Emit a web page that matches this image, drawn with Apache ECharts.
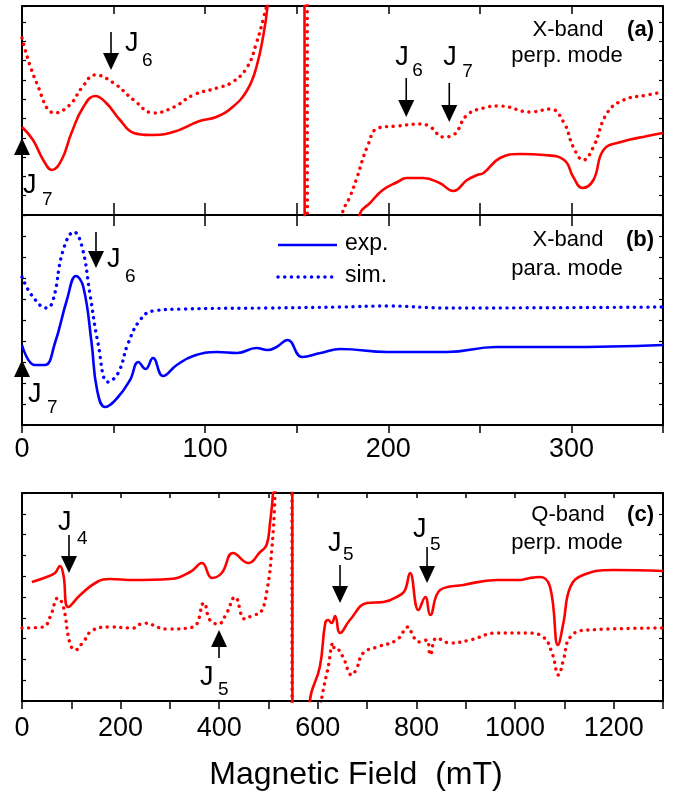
<!DOCTYPE html>
<html>
<head>
<meta charset="utf-8">
<script src="https://cdn.jsdelivr.net/npm/echarts@6/dist/echarts.min.js"></script>
<style>
html,body{margin:0;padding:0;background:#fff;}
#c{width:678px;height:794px;}
</style>
</head>
<body>
<div id="c"></div>
<script>
// ---------- data (field in mT, intensity in arbitrary units) ----------
// Panel (a) X-band perpendicular mode
const aExpField = [0, 6, 11.6, 16.4, 21.6, 27, 33.5, 40, 46, 53.5, 61, 70, 82.5, 97, 106, 115, 123, 128, 132, 134, 136, 140,
  152.3, 156.3, 176, 182.5, 184.7, 190, 197, 205, 210, 219, 228, 235.5, 243, 248.6, 252, 261, 272, 285, 296, 301, 306, 312, 317.5, 327, 341.5, 350];
const aExpVal = [88, 75, 55, 45, 55, 82, 108, 119, 112, 95, 82, 80, 83, 94, 98, 108, 125, 148, 182, 208, 260, 400,
  400, -200, -200, -25, 2, 12, 25, 33, 37, 37, 32, 24, 35, 40, 42, 57, 61, 60, 55, 38, 27, 35, 65, 73, 79, 82];
const aSimField = [0, 8, 18, 26, 33, 40, 50, 61, 72, 83, 93.5, 106.5, 115, 123, 128, 132, 134, 137, 141,
  153.8, 157.8, 170, 173.5, 175, 179, 183, 188.5, 194.5, 205, 217.5, 223, 230, 235.5, 243, 252, 261, 277.5, 288.5, 296, 301, 306.5, 312, 319.5, 328.5, 341.5, 350];
const aSimVal = [177, 132, 102, 110, 128, 140, 132, 115, 102, 108, 120, 127, 133, 148, 172, 198, 215, 300, 400,
  400, -200, -200, -30, 2, 18, 38, 68, 87, 89, 91, 88, 78, 80, 100, 107, 109, 103, 106, 92, 68, 55, 68, 102, 115, 120, 123];

// Panel (b) X-band parallel mode
const bExpField = [0, 7, 12.5, 18, 24.5, 29.5, 33.5, 38, 41, 45.4, 52, 59, 63.5, 67.5, 71.5, 77, 84.5, 93.5, 106.5, 117.5, 128, 134, 139, 145, 153, 163, 174, 199.5, 232, 259, 296, 350];
const bExpVal = [80, 60, 60, 82, 125, 149, 138, 82, 35, 18, 27, 45, 63, 56, 67, 49, 60, 69, 73, 72, 77, 75, 78, 85, 68, 72, 76, 73, 73, 78, 78, 80];
const bSimField = [0, 6, 13.5, 17, 22.5, 28.4, 32.8, 37, 41.5, 47, 52.5, 58, 64.5, 71.5, 88, 134, 174, 199.5, 232, 350];
const bSimVal = [148, 128, 117, 125, 175, 193, 178, 132, 82, 43, 52, 82, 105, 114, 116, 117, 118, 119, 117, 118];

// Panel (c) Q-band perpendicular mode
const cExpField = [20, 50, 67, 77, 84, 94, 118, 152, 178, 226, 300, 341, 365, 385, 405, 428, 459, 483, 496, 503, 509, 512, 516,
  541.7, 555, 578, 582, 584, 604, 615, 621, 628, 635, 645, 665, 700, 733, 767, 777, 787, 804, 818, 828, 848, 895, 963, 1010, 1030, 1051, 1071, 1087, 1098, 1112, 1138, 1199, 1300];
const cExpVal = [119, 124, 128, 135, 126, 94, 106, 119, 122, 121, 122, 129, 138, 123, 128, 148, 138, 149, 156, 178, 208, 260, 400,
  400, -200, -200, -20, 1, 34, 78, 81, 78, 85, 68, 81, 98, 99, 106, 111, 128, 91, 104, 86, 111, 116, 121, 121, 123, 124, 114, 56, 78, 114, 126, 131, 130];
const cSimField = [0, 43, 57, 73, 84, 97, 108, 124, 144, 178, 226, 246, 294, 347, 369, 381, 398, 415, 432, 452, 469, 483, 497, 507, 513, 516, 520,
  542, 553, 575, 603, 608, 621, 631, 635, 641, 651, 669, 679, 692, 720, 760, 783, 794, 807, 821, 828, 841, 868, 909, 963, 1024, 1057, 1075, 1088, 1098, 1112, 1146, 1300];
const cSimVal = [73, 74, 84, 103, 94, 58, 51, 59, 71, 74, 73, 78, 72, 74, 98, 81, 77, 88, 104, 82, 86, 88, 111, 154, 204, 260, 400,
  400, -200, -200, -20, 3, 34, 58, 51, 51, 44, 26, 33, 48, 54, 61, 74, 64, 59, 61, 46, 63, 58, 61, 68, 68, 64, 48, 26, 41, 64, 71, 73];

// Axis tick labels
const xTicksAB = [0, 100, 200, 300];
const xTicksC = [0, 200, 400, 600, 800, 1000, 1200];

// Legend entries of panel (b)
const legendNames = ['exp.', 'sim.'];

// Annotations (arrow position in data coordinates)
const arrows = [
  {axis: 0, x: 48.6, tail: 183, tip: 145, sub: '6', j: [14, 12], s: [31, 29]},
  {axis: 0, x: 0, tail: 55, tip: 77, sub: '7', j: [1, 26], s: [20, 40]},
  {axis: 0, x: 209.8, tail: 137, tip: 98, sub: '6', j: [-11, -20], s: [6, -7]},
  {axis: 0, x: 233.3, tail: 132, tip: 93, sub: '7', j: [-6, -25], s: [13, -11]},
  {axis: 1, x: 40.4, tail: 193, tip: 157, sub: '6', j: [11, 28], s: [29, 45]},
  {axis: 1, x: 0, tail: 45, tip: 65, sub: '7', j: [6, 15], s: [25, 28]},
  {axis: 2, x: 95.3, tail: 166, tip: 128, sub: '4', j: [-11, -12], s: [8, 4]},
  {axis: 2, x: 399.6, tail: 43, tip: 71, sub: '5', j: [-19, 20], s: [-1, 32]},
  {axis: 2, x: 645, tail: 136, tip: 98, sub: '5', j: [-12, -21], s: [3, -10]},
  {axis: 2, x: 821.5, tail: 154, tip: 118, sub: '5', j: [-14, -17], s: [3, -2]}
];

// ---------- chart ----------
const FONT = "'Liberation Sans', Arial, sans-serif";
const zip = (xs, ys) => xs.map((x, i) => [x, ys[i]]);
const chart = echarts.init(document.getElementById('c'), null, {renderer: 'canvas'});

const axisLine = {show: true, onZero: false, lineStyle: {color: '#000', width: 2}};
function xAx(grid, max, interval, opts) {
  return Object.assign({
    type: 'value', gridIndex: grid, min: 0, max: max, interval: interval,
    axisLine: axisLine, splitLine: {show: false},
    axisTick: {show: true, inside: true, length: 8, lineStyle: {color: '#000', width: 1.5}},
    axisLabel: {show: false}
  }, opts);
}
function yAx(grid, max, interval, opts) {
  return Object.assign({
    type: 'value', gridIndex: grid, min: 0, max: max, interval: interval,
    axisLine: axisLine, splitLine: {show: false},
    axisTick: {show: true, inside: true, length: 4, lineStyle: {color: '#000', width: 1.2}},
    axisLabel: {show: false}
  }, opts);
}
const labelStyle = (ticks, margin) => ({
  show: true, fontSize: 27, fontFamily: FONT, color: '#000', margin: margin,
  formatter: v => (ticks.indexOf(v) >= 0 ? String(v) : '')
});

const RED = '#ff0000', BLUE = '#0000ff';
const solid = (color) => ({color: color, width: 2.6});
const dotted = (color) => ({color: color, width: 3.4, type: [0.1, 6.6], cap: 'round'});
function line(name, xi, data, style) {
  return {
    name: name, type: 'line', xAxisIndex: xi, yAxisIndex: xi, data: data,
    symbol: 'none', showSymbol: false, smooth: 0.45,
    lineStyle: style, itemStyle: {color: style.color}, clip: true, z: 3
  };
}

chart.setOption({
  animation: false,
  backgroundColor: '#fff',
  grid: [
    {left: 22, right: 15, top: 6, height: 209},
    {left: 22, right: 15, top: 215, height: 210},
    {left: 22, right: 15, top: 493, height: 208}
  ],
  xAxis: [
    xAx(0, 350, 50, {axisTick: {show: true, inside: true, length: 12, lineStyle: {color: '#000', width: 1.5}}}),
    xAx(1, 350, 50, {axisTick: {show: true, inside: false, length: 8, lineStyle: {color: '#000', width: 1.5}}, axisLabel: labelStyle(xTicksAB, 11)}),
    xAx(2, 1300, 100, {axisTick: {show: true, inside: false, length: 8, lineStyle: {color: '#000', width: 1.5}}, axisLabel: labelStyle(xTicksC, 14)}),
    xAx(0, 350, 50, {position: 'top'}),
    xAx(1, 350, 50, {position: 'top', axisTick: {show: true, inside: true, length: 11, lineStyle: {color: '#000', width: 1.5}}}),
    xAx(2, 1300, 100, {position: 'top', axisTick: {show: true, inside: true, length: 5, lineStyle: {color: '#000', width: 1.5}}})
  ],
  yAxis: [
    yAx(0, 209, 19.3), yAx(1, 210, 21), yAx(2, 208, 20.8),
    yAx(0, 209, 19.3, {position: 'right'}), yAx(1, 210, 21, {position: 'right'}), yAx(2, 208, 20.8, {position: 'right'})
  ],
  series: [
    line('a-sim', 0, zip(aSimField, aSimVal), dotted(RED)),
    line('a-exp', 0, zip(aExpField, aExpVal), solid(RED)),
    line(legendNames[1], 1, zip(bSimField, bSimVal), dotted(BLUE)),
    line(legendNames[0], 1, zip(bExpField, bExpVal), solid(BLUE)),
    line('c-sim', 2, zip(cSimField, cSimVal), dotted(RED)),
    line('c-exp', 2, zip(cExpField, cExpVal), solid(RED))
  ]
});

// ---------- annotations ----------
const g = [];
function txt(x, y, s, size, opts) {
  g.push({type: 'text', x: x, y: y, z: 10,
    style: Object.assign({text: s, fontSize: size, fontFamily: FONT, fill: '#000', textVerticalAlign: 'middle', verticalAlign: 'middle'}, opts || {})});
}
arrows.forEach(a => {
  const tail = chart.convertToPixel({xAxisIndex: a.axis, yAxisIndex: a.axis}, [a.x, a.tail]);
  const tip = chart.convertToPixel({xAxisIndex: a.axis, yAxisIndex: a.axis}, [a.x, a.tip]);
  const x = tail[0];
  const dir = tip[1] > tail[1] ? 1 : -1;
  const headLen = 17, headHalf = 8;
  const baseY = tip[1] - dir * headLen;
  g.push({type: 'line', z: 10, shape: {x1: x, y1: tail[1], x2: x, y2: baseY}, style: {stroke: '#000', lineWidth: 1.6}});
  g.push({type: 'polygon', z: 10, shape: {points: [[x - headHalf, baseY], [x + headHalf, baseY], [x, tip[1]]]}, style: {fill: '#000'}});
  txt(x + a.j[0], tail[1] + a.j[1], 'J', 27);
  txt(x + a.s[0], tail[1] + a.s[1], a.sub, 19);
});

// legend of panel (b), drawn with the series' own line styles
[[245, solid(BLUE)], [277, dotted(BLUE)]].forEach((it, i) => {
  const st = it[1];
  g.push({type: 'line', z: 10, shape: {x1: 278, y1: it[0], x2: 337, y2: it[0]},
    style: {stroke: st.color, lineWidth: st.width, lineDash: st.type === undefined ? null : st.type, lineCap: st.cap || 'butt'}});
  txt(345, it[0] - 1, legendNames[i], 23);
});

// panel captions
const caps = [
  {t1: 'X-band', t2: 'perp. mode', tag: '(a)', y1: 30, y2: 56},
  {t1: 'X-band', t2: 'para. mode', tag: '(b)', y1: 240, y2: 269},
  {t1: 'Q-band', t2: 'perp. mode', tag: '(c)', y1: 515, y2: 543}
];
caps.forEach(c => {
  txt(568, c.y1, c.t1, 22, {textAlign: 'center', align: 'center'});
  txt(567, c.y2, c.t2, 22, {textAlign: 'center', align: 'center'});
  txt(654, c.y1, c.tag, 22, {textAlign: 'right', align: 'right', fontWeight: 'bold'});
});
txt(356, 775, 'Magnetic Field  (mT)', 32, {textAlign: 'center', align: 'center'});

chart.setOption({graphic: g});
</script>
</body>
</html>
